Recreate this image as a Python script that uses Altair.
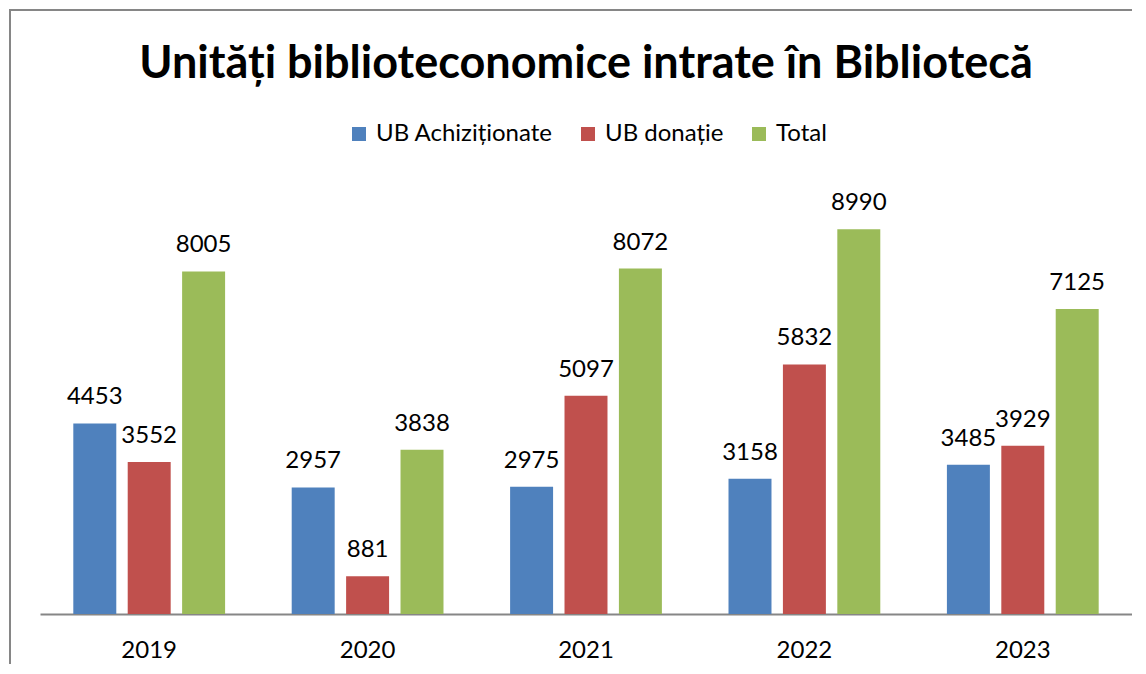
import altair as alt
import pandas as pd

years = ["2019", "2020", "2021", "2022", "2023"]
series = ["UB Achiziționate", "UB donație", "Total"]
achizitionate = [4453, 2957, 2975, 3158, 3485]
donatie = [3552, 881, 5097, 5832, 3929]
total = [8005, 3838, 8072, 8990, 7125]
colors = ["#4F81BD", "#C0504D", "#9BBB59"]

rows = []
for i, y in enumerate(years):
    for s, vals in zip(series, [achizitionate, donatie, total]):
        rows.append({"An": y, "Serie": s, "Valoare": vals[i]})
df = pd.DataFrame(rows)

FONT = "Lato"

x = alt.X("An:N", sort=years, title=None,
          scale=alt.Scale(paddingInner=0.305, paddingOuter=0.1525),
          axis=alt.Axis(labelAngle=0, labelFontSize=24, labelFont=FONT, labelColor="#000000",
                        labelPadding=24, ticks=False, domainColor="#868686", domainWidth=2,
                        grid=False))
xo = alt.XOffset("Serie:N", sort=series, scale=alt.Scale(paddingInner=0.21, paddingOuter=0))
y = alt.Y("Valoare:Q", scale=alt.Scale(domain=[0, 10000]), axis=None)

base = alt.Chart(df)

bars = base.mark_bar().encode(
    x=x, xOffset=xo, y=y,
    color=alt.Color("Serie:N", sort=series,
                    scale=alt.Scale(domain=series, range=colors),
                    legend=alt.Legend(title=None, orient="none", direction="horizontal",
                                      legendX=307, legendY=-64,
                                      symbolType="square", symbolSize=196,
                                      symbolStrokeWidth=0, labelLimit=0,
                                      labelFontSize=24, labelFont=FONT, labelColor="#000000",
                                      columnPadding=23, labelOffset=5)),
)

labels = base.mark_text(baseline="bottom", dy=-14, fontSize=24, font=FONT, color="#000000").encode(
    x=x, xOffset=xo, y=y, text=alt.Text("Valoare:Q", format="d")
)

frame = alt.Chart(pd.DataFrame({"a": [0]})).mark_rect(
    fill=None, stroke="#868686", strokeWidth=2
).encode(x=alt.value(-30), x2=alt.value(1200), y=alt.value(-176), y2=alt.value(700))

chart = alt.layer(frame, bars, labels).properties(
    width=1092, height=428,
    autosize=alt.AutoSizeParams(type="none"),
    padding={"left": 32, "top": 178, "right": 0, "bottom": 50},
    title=alt.TitleParams("Unități biblioteconomice intrate în Bibliotecă",
                          font=FONT, fontSize=45, fontWeight="bold", color="#000000",
                          anchor="middle", offset=-78),
).configure_view(stroke=None)

chart.save("out.html", embed_options={"renderer": "svg", "actions": False})
